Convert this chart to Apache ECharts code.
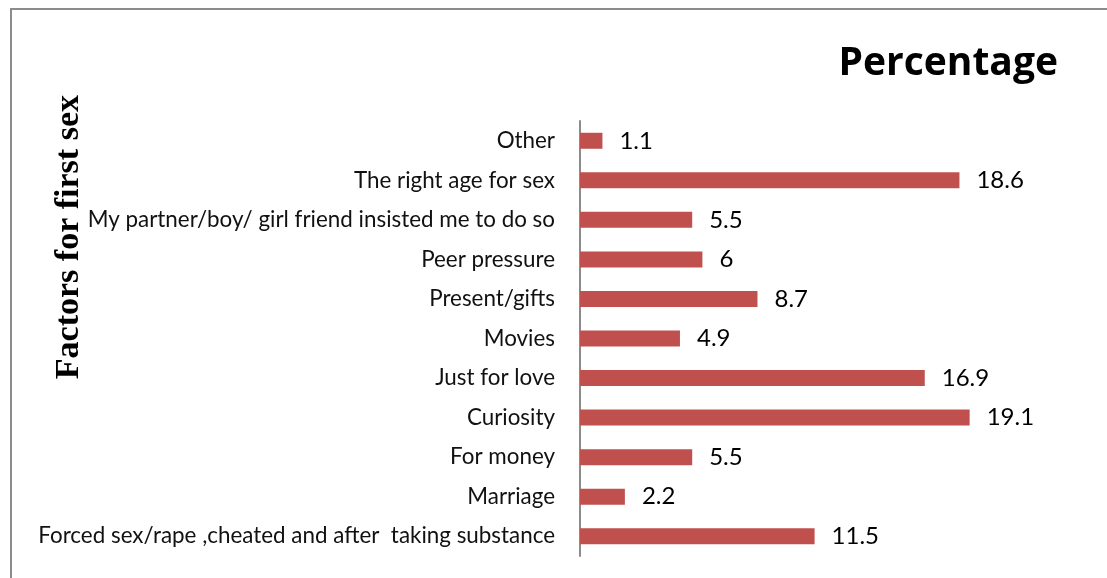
<!DOCTYPE html>
<html>
<head>
<meta charset="utf-8">
<script src="https://cdn.jsdelivr.net/npm/echarts@6/dist/echarts.min.js"></script>
<style>
    html, body { margin: 0; padding: 0; background: #fff; }
    #frame {
        position: absolute;
        left: 10px;
        top: 8px;
        width: 1120px;
        height: 600px;
        border-left: 2px solid #8c8c8c;
        border-top: 2px solid #8c8c8c;
    }
    #chart { position: absolute; left: 0; top: 0; width: 1107px; height: 578px; }
</style>
</head>
<body>
<div id="frame"></div>
<div id="chart"></div>
<script>
// bottom to top, as the bars stack in the picture
const factors = [
    'Forced sex/rape ,cheated and after  taking substance',
    'Marriage',
    'For money',
    'Curiosity',
    'Just for love',
    'Movies',
    'Present/gifts',
    'Peer pressure',
    'My partner/boy/ girl friend insisted me to do so',
    'The right age for sex',
    'Other'
];
const percentage = [11.5, 2.2, 5.5, 19.1, 16.9, 4.9, 8.7, 6, 5.5, 18.6, 1.1];

const chart = echarts.init(document.getElementById('chart'));
chart.setOption({
    animation: false,
    title: {
        text: 'Percentage',
        right: 44,
        top: 39,
        textStyle: {
            fontFamily: 'Open Sans',
            fontWeight: 'bold',
            fontSize: 39,
            color: '#000'
        }
    },
    graphic: [{
        type: 'text',
        left: 52,
        top: 95,
        rotation: Math.PI / 2,
        style: {
            text: 'Factors for first sex',
            font: 'bold 34px "Liberation Serif"',
            fill: '#000'
        }
    }],
    grid: {
        left: 580,
        right: 119,
        top: 121,
        bottom: 22
    },
    xAxis: {
        type: 'value',
        min: 0,
        max: 20,
        show: false
    },
    yAxis: {
        type: 'category',
        data: factors,
        axisLine: { lineStyle: { color: '#8c8c8c', width: 2 } },
        axisTick: { show: false },
        axisLabel: {
            margin: 25,
            fontFamily: 'Lato',
            fontSize: 22.4,
            color: '#111'
        }
    },
    series: [{
        type: 'bar',
        data: percentage,
        barWidth: 16,
        itemStyle: { color: '#c0504d' },
        label: {
            show: true,
            position: 'right',
            distance: 17,
            fontFamily: 'Lato',
            fontSize: 24,
            color: '#000'
        }
    }]
});
</script>
</body>
</html>
